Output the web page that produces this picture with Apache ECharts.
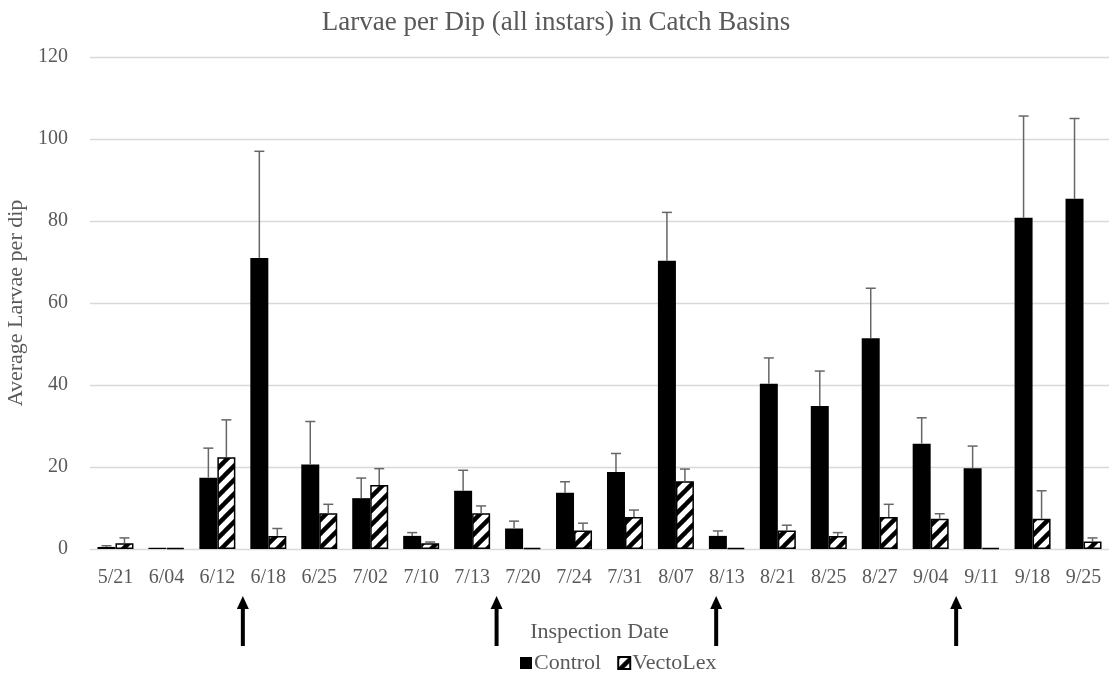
<!DOCTYPE html>
<html>
<head>
<meta charset="utf-8">
<script src="https://cdn.jsdelivr.net/npm/echarts@6/dist/echarts.min.js"></script>
<style>
  html, body { margin: 0; padding: 0; background: #fff; }
  #chart { width: 1112px; height: 677px; }
</style>
</head>
<body>
<div id="chart"></div>
<script>
// Inspection dates
const categories = ['5/21','6/04','6/12','6/18','6/25','7/02','7/10','7/13','7/20','7/24',
                    '7/31','8/07','8/13','8/21','8/25','8/27','9/04','9/11','9/18','9/25'];
// Mean larvae per dip
const controlMeans   = [0.5, 0.3, 17.4, 71.0, 20.6, 12.4, 3.2, 14.2, 5.0, 13.7,
                        18.8, 70.3, 3.2, 40.3, 34.9, 51.4, 25.7, 19.7, 80.8, 85.4];
const vectolexMeans  = [1.4, 0.3, 22.4, 3.2, 8.7, 15.6, 1.4, 8.7, 0.3, 4.5,
                        7.8, 16.5, 0.3, 4.5, 3.2, 7.8, 7.4, 0.3, 7.4, 1.8];
// Upper error (standard error) above each mean
const controlErrors  = [0.3, 0, 7.2, 26.0, 10.5, 4.9, 0.8, 5.0, 1.8, 2.7,
                        4.5, 11.8, 1.2, 6.3, 8.5, 12.2, 6.3, 5.4, 24.8, 19.6];
const vectolexErrors = [1.3, 0, 9.1, 1.8, 2.2, 4.0, 0.3, 1.8, 0, 1.8,
                        1.7, 3.0, 0, 1.3, 0.8, 3.1, 1.2, 0, 6.8, 0.9];
const yTicks = [0, 20, 40, 60, 80, 100, 120];
// Treatment applications, as fractional positions along the date axis
const treatmentAt = [2.5, 7.48, 11.79, 16.5];

const TEXT = '#595959';
const FONT = '"Liberation Serif", "Times New Roman", serif';
const BAR_W = 18;

// Diagonal hatch fill for the VectoLex bars
function hatchPattern() {
  const s = 14;
  const c = document.createElement('canvas');
  c.width = s; c.height = s;
  const g = c.getContext('2d');
  g.fillStyle = '#fff';
  g.fillRect(0, 0, s, s);
  g.strokeStyle = '#000';
  g.lineWidth = 4.5;
  g.lineCap = 'square';
  for (const o of [-s, 0, s]) {
    g.beginPath();
    g.moveTo(o, s);
    g.lineTo(o + s, 0);
    g.stroke();
  }
  return c;
}

function errorSeries(means, errors, shift) {
  return {
    type: 'custom',
    silent: true,
    z: 5,
    data: means.map((m, i) => [i, m, errors[i]]),
    renderItem(params, api) {
      const err = api.value(2);
      if (!err) return null;
      const base = api.coord([api.value(0), api.value(1)]);
      const top = api.coord([api.value(0), api.value(1) + err]);
      const x = base[0] + shift;
      const style = { stroke: '#666666', lineWidth: 1.5 };
      return {
        type: 'group',
        children: [
          { type: 'line', shape: { x1: x, y1: base[1], x2: x, y2: top[1] }, style },
          { type: 'line', shape: { x1: x - 5, y1: top[1], x2: x + 5, y2: top[1] }, style }
        ]
      };
    }
  };
}

const chart = echarts.init(document.getElementById('chart'), null, { renderer: 'canvas' });

chart.setOption({
  animation: false,
  backgroundColor: '#fff',
  textStyle: { fontFamily: FONT, color: TEXT },
  title: {
    text: 'Larvae per Dip (all instars) in Catch Basins',
    left: 'center',
    top: 4,
    textStyle: { fontFamily: FONT, fontSize: 27, fontWeight: 'normal', color: TEXT }
  },
  grid: { left: 90, right: 3, top: 57, bottom: 128, containLabel: false, outerBoundsMode: 'none' },
  legend: {
    left: 515,
    top: 647,
    itemWidth: 12,
    itemHeight: 12,
    itemGap: 16,
    icon: 'rect',
    textStyle: { fontFamily: FONT, fontSize: 22, color: TEXT, padding: [0, 0, 0, -3] },
    data: ['Control', 'VectoLex']
  },
  xAxis: {
    type: 'category',
    data: categories,
    name: 'Inspection Date',
    nameLocation: 'middle',
    nameGap: 72,
    nameTextStyle: { fontFamily: FONT, fontSize: 22, color: TEXT },
    axisLine: { show: false },
    axisTick: { show: false },
    axisLabel: { fontFamily: FONT, fontSize: 20, color: TEXT, margin: 19, interval: 0 }
  },
  yAxis: {
    type: 'value',
    min: yTicks[0],
    max: yTicks[yTicks.length - 1],
    interval: yTicks[1] - yTicks[0],
    name: 'Average Larvae per dip',
    nameLocation: 'middle',
    nameGap: 58,
    nameTextStyle: { fontFamily: FONT, fontSize: 22, color: TEXT },
    axisLine: { show: false },
    axisTick: { show: false },
    axisLabel: { fontFamily: FONT, fontSize: 20, color: TEXT, margin: 22 },
    splitLine: { lineStyle: { color: '#d9d9d9', width: 1.3 } }
  },
  series: [
    {
      name: 'Control',
      type: 'bar',
      data: controlMeans,
      barWidth: BAR_W,
      barGap: '0%',
      itemStyle: { color: '#000' }
    },
    {
      name: 'VectoLex',
      type: 'bar',
      data: vectolexMeans,
      barWidth: BAR_W,
      barGap: '0%',
      itemStyle: {
        color: { image: hatchPattern(), repeat: 'repeat' },
        borderColor: '#000',
        borderWidth: 1.5
      }
    },
    errorSeries(controlMeans, controlErrors, -BAR_W / 2),
    errorSeries(vectolexMeans, vectolexErrors, BAR_W / 2)
  ]
});

// Arrows under the date axis marking each treatment
function categoryX(pos) {
  const i0 = Math.floor(pos), i1 = Math.min(i0 + 1, categories.length - 1);
  const x0 = chart.convertToPixel({ xAxisIndex: 0 }, i0);
  const x1 = chart.convertToPixel({ xAxisIndex: 0 }, i1);
  return x0 + (x1 - x0) * (pos - i0);
}
const arrowTop = 596, arrowBottom = 646;
chart.setOption({
  graphic: treatmentAt.map(p => {
    const x = categoryX(p);
    return {
      type: 'group',
      children: [
        { type: 'rect', shape: { x: x - 2, y: arrowTop + 10, width: 4, height: arrowBottom - arrowTop - 10 },
          style: { fill: '#000' } },
        { type: 'polygon', shape: { points: [[x, arrowTop], [x - 6, arrowTop + 13], [x + 6, arrowTop + 13]] },
          style: { fill: '#000' } }
      ]
    };
  })
});
</script>
</body>
</html>
